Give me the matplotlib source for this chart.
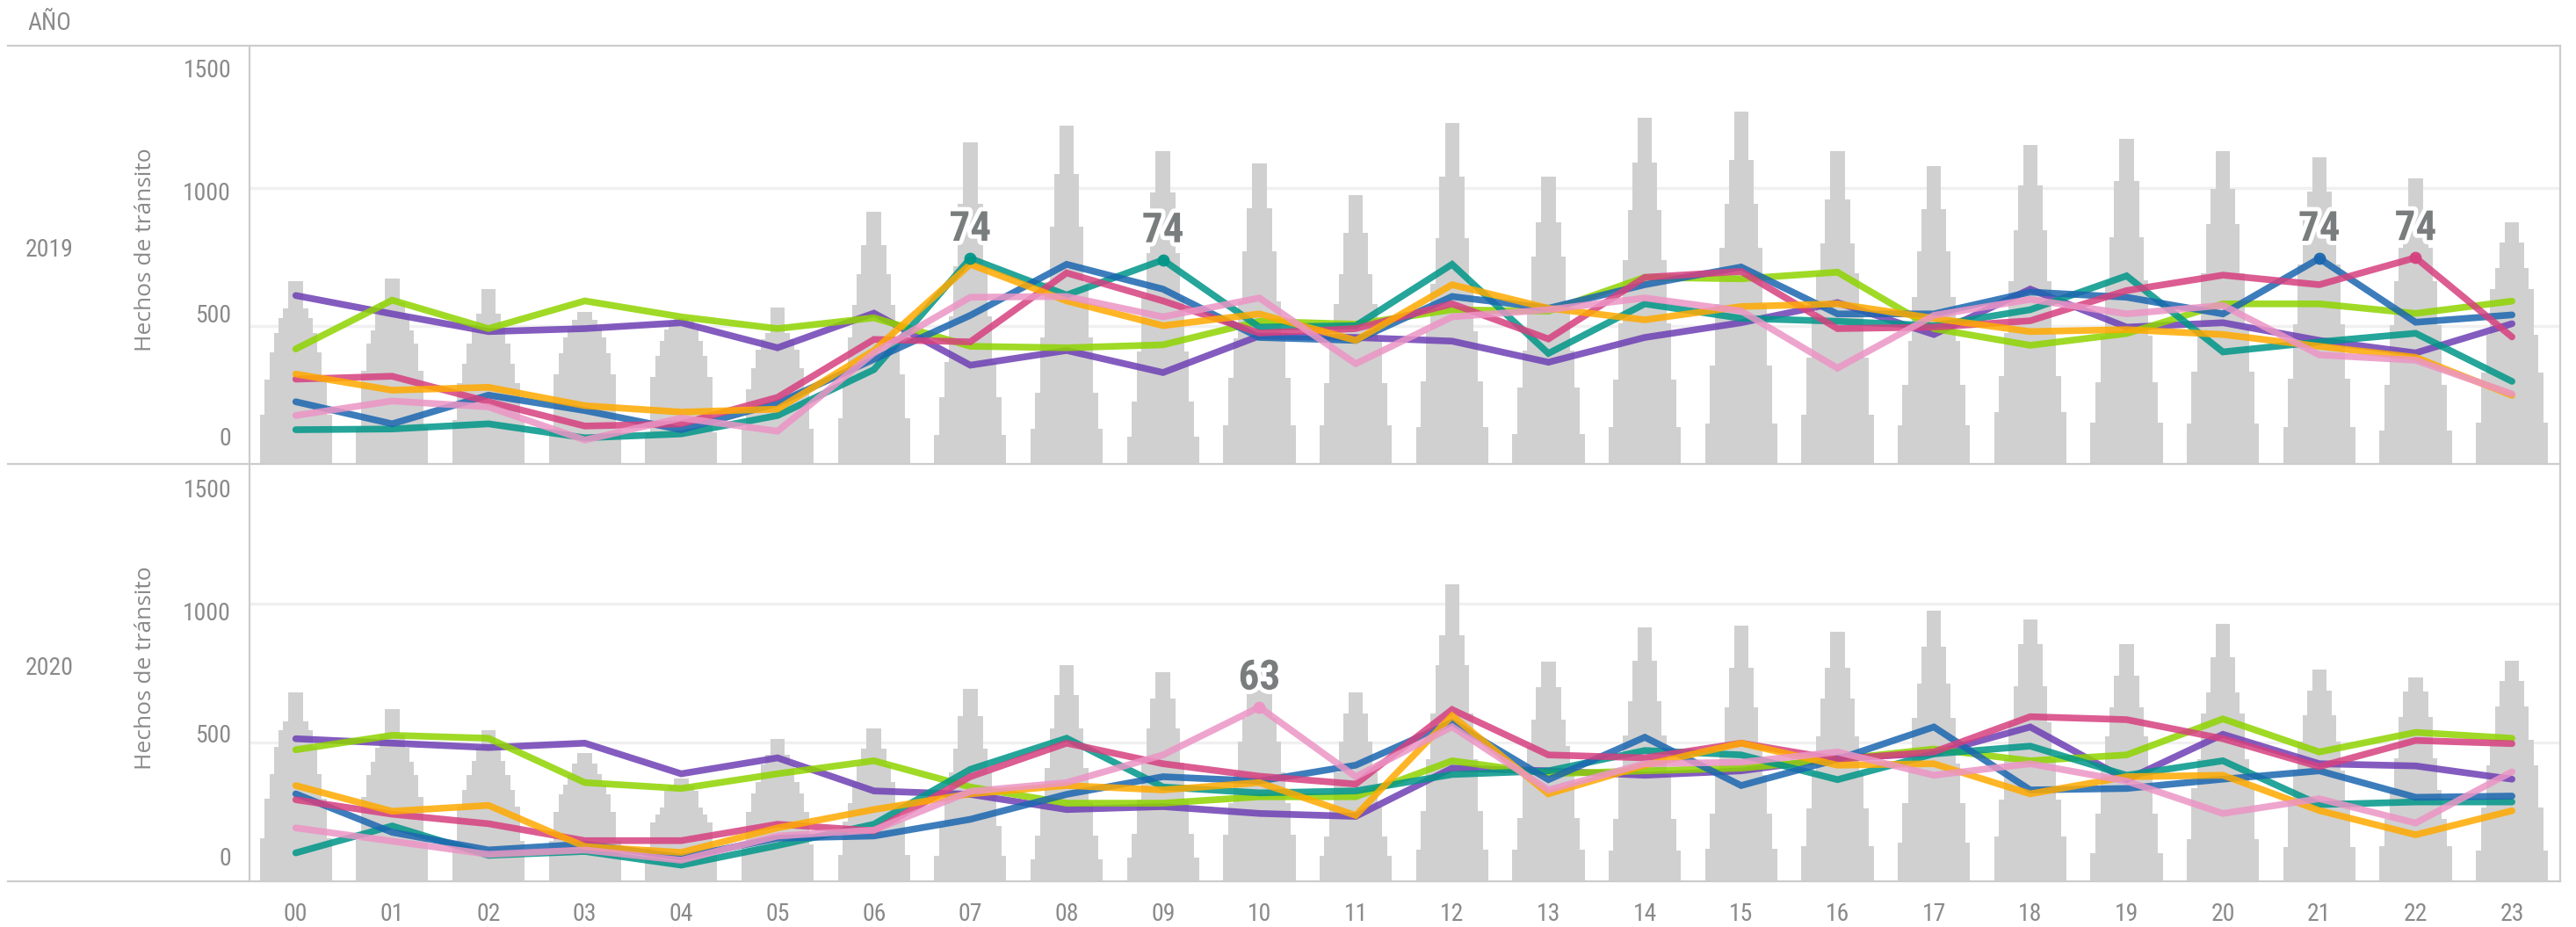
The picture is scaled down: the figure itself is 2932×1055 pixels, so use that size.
import matplotlib
matplotlib.use("Agg")
import matplotlib.pyplot as plt
from matplotlib import font_manager
from matplotlib.lines import Line2D
import matplotlib.patheffects as pe
import numpy as np


def pick_font(names):
    for n in names:
        try:
            font_manager.findfont(font_manager.FontProperties(family=n), fallback_to_default=False)
            return n
        except Exception:
            continue
    return "DejaVu Sans"


NARROW = pick_font(["Liberation Sans Narrow", "DejaVu Sans Condensed", "Roboto Condensed", "Liberation Sans"])
plt.rcParams["font.family"] = [NARROW, "DejaVu Sans"]

W, H = 2932, 1055

hours = [f"{h:02d}" for h in range(24)]
years = ["2019", "2020"]

series_names = ["purple", "green", "teal", "blue", "magenta", "orange", "pink"]
series_colors = ["#6e3fb4", "#8fd400", "#009688", "#1b66b0", "#d6407f", "#ffaa00", "#ec95c5"]

# hechos de transito por hora, 2019
lines_2019 = {
    "purple":  [574, 499, 427, 439, 463, 361, 502, 290, 350, 260, 409, 403, 388, 302, 403, 463, 545, 415, 600, 445, 463, 391, 340, 459],
    "green":   [356, 555, 439, 552, 487, 439, 483, 367, 361, 373, 469, 457, 516, 510, 648, 642, 669, 439, 371, 419, 540, 540, 501, 551],
    "teal":    [27, 30, 51, -6, 10, 85, 272, 725, 576, 719, 445, 451, 701, 338, 540, 481, 469, 451, 516, 654, 344, 385, 420, 224],
    "blue":    [141, 51, 168, 105, 27, 135, 314, 493, 701, 600, 403, 391, 570, 522, 618, 690, 499, 499, 588, 567, 499, 725, 465, 495],
    "magenta": [233, 245, 141, 42, 51, 159, 395, 385, 666, 552, 421, 439, 540, 397, 648, 672, 439, 445, 471, 594, 657, 618, 728, 405],
    "orange":  [254, 188, 200, 125, 99, 111, 350, 701, 552, 451, 499, 391, 618, 522, 475, 529, 540, 481, 427, 435, 415, 367, 322, 167],
    "pink":    [85, 144, 120, -15, 75, 21, 340, 567, 570, 487, 564, 296, 487, 516, 564, 511, 278, 493, 558, 499, 534, 332, 310, 173],
}

# hechos de transito por hora, 2020
lines_2020 = {
    "purple":  [478, 460, 442, 460, 335, 400, 265, 251, 189, 201, 173, 161, 358, 347, 329, 347, 400, 418, 526, 311, 496, 376, 367, 313],
    "green":   [433, 492, 480, 299, 275, 335, 388, 281, 215, 215, 241, 241, 388, 335, 347, 358, 394, 436, 388, 412, 559, 424, 504, 480],
    "teal":    [12, 122, 2, 18, -38, 42, 129, 353, 480, 281, 257, 265, 332, 347, 430, 412, 311, 416, 448, 329, 388, 209, 220, 220],
    "blue":    [253, 96, 24, 48, -6, 72, 81, 149, 251, 323, 305, 370, 545, 311, 484, 287, 394, 526, 269, 275, 313, 347, 239, 244],
    "magenta": [229, 170, 131, 62, 62, 129, 102, 323, 460, 376, 325, 293, 597, 412, 400, 460, 394, 424, 568, 556, 478, 364, 471, 458],
    "orange":  [287, 182, 206, 38, 14, 114, 189, 253, 287, 269, 299, 165, 572, 253, 370, 460, 370, 376, 253, 323, 329, 185, 86, 184],
    "pink":    [114, 60, 6, 24, -18, 81, 105, 263, 299, 412, 607, 323, 527, 269, 376, 382, 424, 329, 376, 305, 173, 233, 134, 343],
}

# grey stepped bars: top of each of the 7 steps per hour (widest first)
step_widths = [0.75, 0.65, 0.54, 0.45, 0.35, 0.26, 0.15]

bars_2019 = [
    [89, 233, 344, 421, 481, 523, 633],
    [39, 268, 379, 433, 495, 546, 642],
    [66, 218, 296, 379, 439, 499, 600],
    [30, 252, 338, 403, 439, 475, 507],
    [15, 242, 328, 388, 435, 469, 481],
    [30, 192, 278, 352, 395, 421, 525],
    [73, 252, 403, 534, 660, 779, 916],
    [5, 161, 304, 489, 692, 949, 1197],
    [30, 177, 404, 630, 855, 1068, 1266],
    [0, 143, 346, 567, 746, 993, 1164],
    [45, 238, 400, 549, 754, 928, 1112],
    [45, 216, 388, 540, 660, 830, 982],
    [39, 224, 427, 620, 809, 1057, 1278],
    [10, 200, 350, 540, 733, 874, 1057],
    [39, 230, 460, 717, 922, 1117, 1298],
    [54, 288, 540, 769, 948, 1125, 1322],
    [89, 320, 493, 666, 785, 964, 1161],
    [45, 209, 388, 567, 753, 925, 1101],
    [99, 245, 421, 634, 839, 1024, 1188],
    [57, 221, 409, 636, 812, 1041, 1211],
    [54, 264, 445, 666, 865, 1008, 1161],
    [39, 236, 457, 701, 887, 996, 1136],
    [23, 211, 453, 634, 769, 928, 1050],
    [57, 260, 414, 599, 686, 790, 871],
]

bars_2020 = [
    [72, 233, 335, 445, 514, 550, 667],
    [66, 241, 329, 385, 440, 496, 600],
    [62, 200, 270, 330, 388, 440, 514],
    [62, 179, 250, 289, 335, 376, 421],
    [36, 137, 170, 197, 265, 287, 317],
    [45, 179, 253, 301, 373, 412, 478],
    [2, 140, 215, 300, 370, 436, 520],
    [0, 122, 250, 340, 436, 571, 681],
    [-14, 81, 220, 358, 520, 657, 779],
    [-6, 90, 230, 380, 520, 643, 750],
    [86, 215, 341, 466, 562, 680, 786],
    [0, 78, 200, 340, 468, 580, 667],
    [26, 182, 394, 580, 777, 902, 1109],
    [26, 155, 340, 450, 556, 690, 791],
    [20, 150, 330, 490, 633, 798, 932],
    [30, 173, 330, 460, 607, 767, 940],
    [38, 194, 340, 488, 643, 767, 914],
    [54, 215, 376, 564, 702, 854, 1001],
    [78, 229, 394, 547, 693, 863, 966],
    [10, 173, 347, 488, 607, 735, 863],
    [69, 275, 394, 580, 667, 809, 946],
    [36, 227, 347, 468, 574, 675, 762],
    [38, 150, 270, 397, 566, 672, 728],
    [20, 199, 370, 475, 610, 714, 795],
]

# highlighted points: (hour, series, label)
marks_2019 = [(7, "teal", "74"), (9, "teal", "74"), (21, "blue", "74"), (22, "magenta", "74")]
marks_2020 = [(10, "pink", "63")]

yticks = [0, 500, 1000, 1500]

TXT = "#8a8a8a"
BORDER = "#cccccc"

fig = plt.figure(figsize=(W / 100, H / 100), dpi=100)

x_left, x_right = 284, 2914
panels = [
    # year, top px, bottom px, line ylim, bar-axis top, lines, bars, marks
    ("2019", 52, 527.6, (-111, 1592), 1515, lines_2019, bars_2019, marks_2019),
    ("2020", 528.5, 1003, (-104, 1598), 1502, lines_2020, bars_2020, marks_2020),
]

x = np.arange(24)
for i, (year, top, bot, ylim, gtop, lines, bars, marks) in enumerate(panels):
    rect = [x_left / W, 1 - bot / H, (x_right - x_left) / W, (bot - top) / H]
    grid_ax = fig.add_axes(rect)
    grid_ax.set_xlim(-0.48, 23.5)
    grid_ax.set_ylim(0, gtop)
    grid_ax.set_yticks([500, 1000])
    grid_ax.set_xticks([])
    grid_ax.grid(axis="y", color="#f0f0f0", lw=2.5)
    grid_ax.tick_params(left=False, labelleft=False)
    for s in grid_ax.spines.values():
        s.set_visible(False)

    ax = fig.add_axes(rect)
    ax.patch.set_visible(False)
    ax.set_xlim(-0.48, 23.5)
    ax.set_ylim(*ylim)

    steps = np.array(bars)
    for k, w in enumerate(step_widths):
        ax.bar(x, steps[:, k] - ylim[0], bottom=ylim[0], width=w,
               color="#d0d0d0", linewidth=0, zorder=1)

    for name, col in zip(series_names, series_colors):
        ax.plot(x, lines[name], color=col, lw=5.5, alpha=0.85,
                solid_capstyle="round", solid_joinstyle="miter", zorder=3)

    for h, name, lab in marks:
        col = series_colors[series_names.index(name)]
        yv = lines[name][h]
        ax.plot([h], [yv], "o", color=col, ms=9, alpha=0.9, zorder=4)
        ax.annotate(lab, (h, yv), xytext=(0, 8), textcoords="offset points",
                    ha="center", va="bottom", fontsize=34, fontweight="bold",
                    color="#7a7d7d", zorder=5,
                    path_effects=[pe.withStroke(linewidth=7, foreground="white")])

    ax.set_yticks(yticks)
    ax.set_yticklabels([str(v) for v in yticks])
    ax.tick_params(axis="y", length=0, pad=15, labelsize=20, labelcolor=TXT)
    if i == 1:
        ax.set_xticks(x)
        ax.set_xticklabels(hours)
        ax.tick_params(axis="x", length=0, pad=17, labelsize=20, labelcolor=TXT)
    else:
        ax.set_xticks([])
    for s in ax.spines.values():
        s.set_visible(False)

    fig.text(166 / W, 1 - (top + bot) / 2 / H + 6 / H, "Hechos de tránsito",
             rotation=90, ha="center", va="center", fontsize=19, color=TXT,
             family=["Open Sans", "DejaVu Sans"])
    fig.text(56 / W, 1 - (top + bot) / 2 / H + 5 / H, year,
             ha="center", va="center", fontsize=20, color=TXT)

fig.text(56 / W, 1 - 27 / H, "AÑO", ha="center", va="center", fontsize=20, color=TXT)


def hline(y, x0=9, x1=x_right):
    fig.add_artist(Line2D([x0 / W, x1 / W], [1 - y / H, 1 - y / H], color=BORDER, lw=1.6))


def vline(xp, y0=52, y1=1003):
    fig.add_artist(Line2D([xp / W, xp / W], [1 - y0 / H, 1 - y1 / H], color=BORDER, lw=1.6))


hline(52)
hline(528)
hline(1003)
vline(x_left)
vline(x_right)

fig.savefig("out.png", dpi=100)
